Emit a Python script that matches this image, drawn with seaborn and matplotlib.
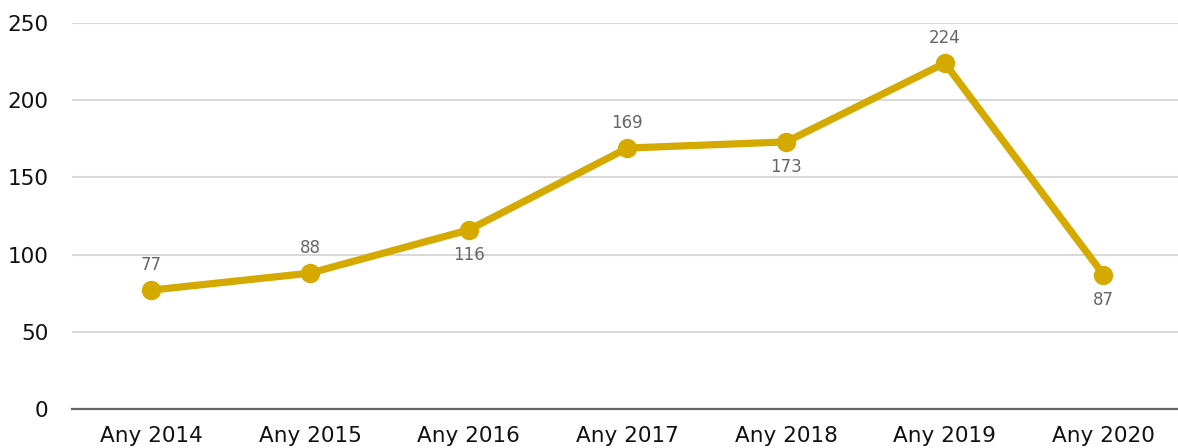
import matplotlib
matplotlib.use("Agg")
import matplotlib.pyplot as plt
import seaborn as sns
import pandas as pd

categories = ["Any 2014", "Any 2015", "Any 2016", "Any 2017", "Any 2018", "Any 2019", "Any 2020"]
values = [77, 88, 116, 169, 173, 224, 87]
label_above = [True, True, False, True, False, True, False]
y_ticks = [0, 50, 100, 150, 200, 250]

df = pd.DataFrame({"categoria": categories, "valor": values})

sns.set_theme(style="white")
plt.rcParams["font.family"] = ["DejaVu Sans"]

line_color = "#D4AA00"

fig = plt.figure(figsize=(11.78, 4.48), dpi=100)
ax = fig.add_axes([0.0611, 0.087, 0.943, 0.8617])

sns.lineplot(data=df, x="categoria", y="valor", sort=False, ax=ax,
             color=line_color, linewidth=5.2, marker="o", markersize=14,
             markeredgewidth=0, markerfacecolor=line_color, zorder=3)

for i, (v, up) in enumerate(zip(values, label_above)):
    ax.annotate(str(v), (i, v), xytext=(0, 18 if up else -18),
                textcoords="offset points", ha="center", va="center",
                fontsize=12, color="#666666")

ax.set_xlim(-0.5, len(categories) - 0.5)
ax.set_ylim(0, 250)
ax.set_yticks(y_ticks)
ax.set_xlabel("")
ax.set_ylabel("")
ax.grid(axis="y", color="#d9d9d9", linewidth=1.5, zorder=0)
ax.grid(axis="x", visible=False)
ax.set_axisbelow(True)
for side in ["top", "right", "left"]:
    ax.spines[side].set_visible(False)
ax.spines["bottom"].set_color("#666666")
ax.spines["bottom"].set_linewidth(1.6)
ax.tick_params(axis="both", length=0, labelsize=15.5, labelcolor="#111111")
ax.tick_params(axis="y", pad=17)
ax.tick_params(axis="x", pad=12)

fig.savefig("out.png", dpi=100, facecolor="white")
